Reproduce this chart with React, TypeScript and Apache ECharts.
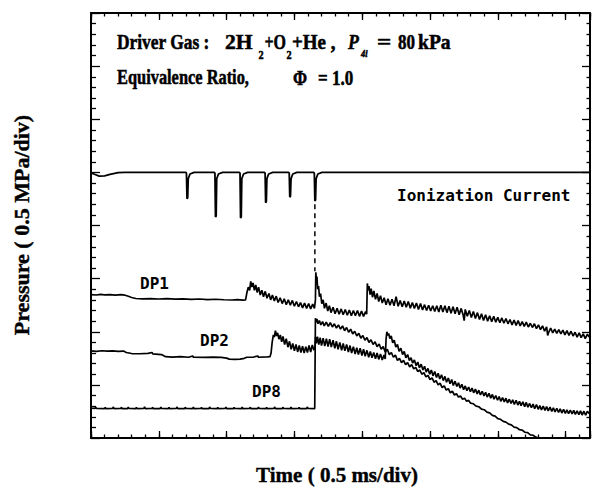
import { useEffect, useRef } from "react";
import * as echarts from "echarts";

// Time axis in ms (0.5 ms/div), pressure axis in MPa (0.5 MPa/div)
const timeRange: [number, number] = [0.3, 3.98];
const pressureRange: [number, number] = [0, 4];

// Ionization current trace (plotted in the pressure frame, offset to 2.5 div)
const ionizationCurrent: [number, number][] = [
  [0.3, 2.495], [0.33, 2.48], [0.36, 2.465], [0.4, 2.468], [0.44, 2.482], [0.5, 2.497], [0.55, 2.5],
  [1.0, 2.5], [1.004, 2.49], [1.008, 2.253], [1.013, 2.26], [1.017, 2.44], [1.03, 2.485], [1.06, 2.5],
  [1.21, 2.5], [1.214, 2.49], [1.218, 2.08], [1.223, 2.09], [1.227, 2.44], [1.24, 2.485], [1.27, 2.5],
  [1.395, 2.5], [1.399, 2.49], [1.403, 2.071], [1.408, 2.08], [1.412, 2.44], [1.425, 2.485], [1.455, 2.5],
  [1.58, 2.5], [1.584, 2.49], [1.588, 2.215], [1.593, 2.225], [1.597, 2.44], [1.61, 2.485], [1.64, 2.5],
  [1.758, 2.5], [1.762, 2.49], [1.766, 2.268], [1.771, 2.275], [1.775, 2.44], [1.788, 2.485], [1.818, 2.5],
  [1.943, 2.5], [1.947, 2.49], [1.951, 2.231], [1.956, 2.24], [1.96, 2.44], [1.973, 2.485], [2.003, 2.5],
  [3.98, 2.5],
];

// Dashed marker from the last ionization dip down to the DP1 shock front
const ionMarker: [number, number][] = [[1.951, 2.2], [1.951, 1.57]];

const dp1: [number, number][] = [
  [0.3, 1.35], [0.34, 1.346], [0.37, 1.352], [0.4, 1.347], [0.44, 1.35], [0.48, 1.345], [0.52, 1.349],
  [0.55, 1.344], [0.57, 1.336], [0.6, 1.322], [0.63, 1.313], [0.68, 1.31], [0.74, 1.312], [0.8, 1.308],
  [0.86, 1.311], [0.92, 1.307], [0.98, 1.31], [1.04, 1.305], [1.1, 1.308], [1.16, 1.303], [1.22, 1.306],
  [1.28, 1.301], [1.34, 1.299], [1.38, 1.303], [1.42, 1.297],
  [1.44, 1.3], [1.45, 1.37], [1.46, 1.42], [1.47, 1.39], [1.478, 1.475], [1.486, 1.42], [1.495, 1.46],
  [1.505, 1.39], [1.515, 1.44], [1.525, 1.37], [1.536, 1.42], [1.548, 1.345], [1.56, 1.39], [1.572, 1.33],
  [1.585, 1.38], [1.598, 1.315], [1.612, 1.36], [1.625, 1.3], [1.638, 1.345], [1.652, 1.29], [1.666, 1.335],
  [1.68, 1.275], [1.695, 1.32], [1.71, 1.265], [1.725, 1.31], [1.74, 1.255], [1.755, 1.3], [1.77, 1.25],
  [1.785, 1.295], [1.8, 1.24], [1.815, 1.285], [1.83, 1.235], [1.845, 1.275], [1.86, 1.225], [1.875, 1.27],
  [1.89, 1.22], [1.905, 1.265], [1.92, 1.215], [1.935, 1.26], [1.948, 1.22],
  [1.955, 1.3], [1.958, 1.56], [1.962, 1.49], [1.966, 1.52], [1.972, 1.4], [1.978, 1.43], [1.985, 1.33],
  [1.993, 1.36], [2.002, 1.265], [2.012, 1.3], [2.022, 1.22], [2.034, 1.27], [2.046, 1.195], [2.058, 1.245],
  [2.07, 1.18], [2.085, 1.23], [2.1, 1.17], [2.115, 1.22], [2.13, 1.165], [2.145, 1.215], [2.16, 1.16],
  [2.175, 1.21], [2.19, 1.155], [2.205, 1.205], [2.22, 1.15], [2.235, 1.2], [2.25, 1.15], [2.265, 1.2],
  [2.28, 1.145], [2.295, 1.195], [2.31, 1.145], [2.325, 1.19], [2.333, 1.165],
  [2.338, 1.455], [2.344, 1.39], [2.35, 1.43], [2.358, 1.35], [2.366, 1.405], [2.376, 1.325], [2.386, 1.385],
  [2.398, 1.305], [2.41, 1.36], [2.422, 1.285], [2.435, 1.34], [2.448, 1.27], [2.462, 1.32], [2.476, 1.255],
  [2.49, 1.31], [2.505, 1.25], [2.52, 1.305], [2.535, 1.245], [2.55, 1.33], [2.565, 1.24], [2.58, 1.295],
  [2.595, 1.235], [2.61, 1.29], [2.625, 1.23], [2.64, 1.285], [2.655, 1.222], [2.67, 1.275], [2.685, 1.22],
  [2.7, 1.27], [2.715, 1.21], [2.73, 1.265], [2.745, 1.205], [2.76, 1.255], [2.775, 1.2], [2.79, 1.25],
  [2.805, 1.195], [2.82, 1.245], [2.835, 1.19], [2.85, 1.245], [2.865, 1.185], [2.88, 1.25], [2.895, 1.185],
  [2.91, 1.245], [2.925, 1.18], [2.94, 1.24], [2.955, 1.175], [2.97, 1.235], [2.985, 1.17], [3.0, 1.23],
  [3.015, 1.16], [3.03, 1.22], [3.045, 1.155], [3.052, 1.105], [3.06, 1.21], [3.075, 1.145], [3.09, 1.2],
  [3.105, 1.135], [3.12, 1.19], [3.135, 1.125], [3.15, 1.18], [3.165, 1.115], [3.18, 1.17], [3.195, 1.105],
  [3.21, 1.16], [3.225, 1.1], [3.24, 1.15], [3.255, 1.095], [3.27, 1.145], [3.285, 1.09], [3.3, 1.135],
  [3.315, 1.085], [3.33, 1.13], [3.345, 1.08], [3.36, 1.125], [3.375, 1.075], [3.39, 1.115], [3.405, 1.065],
  [3.42, 1.11], [3.435, 1.06], [3.45, 1.105], [3.465, 1.055], [3.48, 1.095], [3.495, 1.05], [3.51, 1.09],
  [3.525, 1.045], [3.54, 1.08], [3.555, 1.04], [3.57, 1.075], [3.585, 1.03], [3.6, 1.065], [3.615, 1.02],
  [3.63, 1.055], [3.645, 1.005], [3.66, 1.045], [3.668, 0.965], [3.675, 0.995], [3.69, 1.035], [3.705, 0.99],
  [3.72, 1.025], [3.735, 0.985], [3.75, 1.02], [3.765, 0.98], [3.78, 1.015], [3.795, 0.97], [3.81, 1.01],
  [3.825, 0.965], [3.84, 1.005], [3.855, 0.96], [3.87, 0.995], [3.885, 0.95], [3.9, 0.99], [3.915, 0.945],
  [3.93, 0.98], [3.945, 0.935], [3.96, 0.975], [3.98, 0.945],
];

const dp2: [number, number][] = [
  [0.3, 0.82], [0.34, 0.816], [0.38, 0.821], [0.42, 0.817], [0.46, 0.82], [0.5, 0.815], [0.54, 0.818],
  [0.56, 0.805], [0.6, 0.795], [0.66, 0.793], [0.72, 0.796], [0.75, 0.805], [0.755, 0.792], [0.82, 0.785],
  [0.85, 0.765], [0.9, 0.762], [0.96, 0.765], [1.02, 0.76], [1.05, 0.772], [1.055, 0.76], [1.14, 0.759],
  [1.2, 0.762], [1.26, 0.758], [1.3, 0.752], [1.32, 0.742], [1.36, 0.74], [1.4, 0.743], [1.43, 0.75],
  [1.45, 0.76], [1.5, 0.762], [1.53, 0.772], [1.535, 0.76], [1.6, 0.763], [1.62, 0.765],
  [1.628, 0.8], [1.636, 0.9], [1.645, 0.97], [1.652, 0.95], [1.66, 1.01], [1.668, 0.96], [1.676, 0.99],
  [1.686, 0.93], [1.696, 0.97], [1.706, 0.905], [1.716, 0.955], [1.728, 0.88], [1.74, 0.935], [1.752, 0.855],
  [1.764, 0.91], [1.776, 0.835], [1.788, 0.89], [1.8, 0.82], [1.812, 0.88], [1.824, 0.81], [1.836, 0.87],
  [1.848, 0.805], [1.86, 0.865], [1.872, 0.8], [1.884, 0.86], [1.896, 0.805], [1.908, 0.87], [1.92, 0.81],
  [1.932, 0.875], [1.944, 0.825], [1.952, 0.86],
  [1.956, 0.95], [1.962, 0.89], [1.97, 0.955], [1.98, 0.88], [1.99, 0.945], [2.0, 0.87], [2.012, 0.94],
  [2.024, 0.865], [2.036, 0.935], [2.048, 0.86], [2.06, 0.93], [2.072, 0.855], [2.085, 0.92], [2.098, 0.845],
  [2.11, 0.91], [2.122, 0.835], [2.135, 0.9], [2.148, 0.825], [2.16, 0.89], [2.172, 0.82], [2.185, 0.88],
  [2.198, 0.81], [2.21, 0.87], [2.222, 0.8], [2.235, 0.86], [2.248, 0.79], [2.26, 0.85], [2.272, 0.785],
  [2.285, 0.845], [2.298, 0.775], [2.31, 0.835], [2.322, 0.77], [2.335, 0.825], [2.348, 0.76], [2.36, 0.815],
  [2.372, 0.755], [2.385, 0.805], [2.398, 0.745], [2.41, 0.8], [2.422, 0.74], [2.435, 0.79], [2.448, 0.735],
  [2.46, 0.78], [2.47, 0.745],
  [2.476, 0.93], [2.482, 1.0], [2.488, 0.965], [2.495, 0.985], [2.504, 0.935], [2.514, 0.96], [2.525, 0.895],
  [2.536, 0.92], [2.548, 0.855], [2.56, 0.88], [2.572, 0.815], [2.585, 0.845], [2.598, 0.785], [2.61, 0.815],
  [2.622, 0.755], [2.635, 0.785], [2.648, 0.73], [2.66, 0.755], [2.672, 0.705], [2.685, 0.735], [2.698, 0.68],
  [2.71, 0.715], [2.722, 0.66], [2.735, 0.695], [2.748, 0.64], [2.76, 0.675], [2.772, 0.62], [2.785, 0.655],
  [2.798, 0.6], [2.81, 0.64], [2.822, 0.585], [2.835, 0.625], [2.848, 0.57], [2.86, 0.61], [2.872, 0.555],
  [2.885, 0.595], [2.898, 0.54], [2.91, 0.58], [2.922, 0.525], [2.935, 0.565], [2.948, 0.51], [2.96, 0.55],
  [2.972, 0.495], [2.985, 0.535], [2.998, 0.485], [3.01, 0.52], [3.022, 0.47], [3.035, 0.505], [3.048, 0.455],
  [3.06, 0.49], [3.072, 0.445], [3.085, 0.48], [3.098, 0.435], [3.11, 0.47], [3.122, 0.425], [3.135, 0.46],
  [3.148, 0.415], [3.16, 0.45], [3.172, 0.405], [3.185, 0.44], [3.198, 0.395], [3.21, 0.43], [3.222, 0.385],
  [3.235, 0.42], [3.248, 0.375], [3.26, 0.41], [3.272, 0.365], [3.285, 0.4], [3.298, 0.355], [3.31, 0.39],
  [3.322, 0.345], [3.335, 0.38], [3.348, 0.34], [3.36, 0.375], [3.372, 0.33], [3.385, 0.365], [3.398, 0.325],
  [3.41, 0.36], [3.422, 0.315], [3.435, 0.355], [3.448, 0.31], [3.46, 0.345], [3.472, 0.305], [3.485, 0.34],
  [3.498, 0.295], [3.51, 0.335], [3.522, 0.29], [3.535, 0.325], [3.548, 0.285], [3.56, 0.32], [3.572, 0.275],
  [3.585, 0.315], [3.598, 0.27], [3.61, 0.305], [3.622, 0.265], [3.635, 0.3], [3.648, 0.26], [3.66, 0.295],
  [3.672, 0.255], [3.685, 0.29], [3.698, 0.25], [3.71, 0.285], [3.722, 0.245], [3.735, 0.28], [3.748, 0.24],
  [3.76, 0.275], [3.772, 0.235], [3.785, 0.27], [3.798, 0.232], [3.81, 0.265], [3.822, 0.23], [3.835, 0.262],
  [3.848, 0.226], [3.86, 0.26], [3.872, 0.222], [3.885, 0.256], [3.898, 0.22], [3.91, 0.255], [3.922, 0.216],
  [3.935, 0.252], [3.948, 0.214], [3.96, 0.25], [3.98, 0.225],
];

const dp8: [number, number][] = [
  [0.3, 0.28], [0.33, 0.278], [0.335, 0.29], [0.34, 0.278], [0.4, 0.277], [0.405, 0.288], [0.41, 0.277],
  [0.46, 0.278], [0.465, 0.292], [0.47, 0.277], [0.52, 0.278], [0.525, 0.289], [0.53, 0.277], [0.57, 0.277],
  [0.575, 0.29], [0.58, 0.278], [0.63, 0.277], [0.635, 0.288], [0.64, 0.277], [0.69, 0.278], [0.695, 0.293],
  [0.7, 0.277], [0.75, 0.278], [0.755, 0.289], [0.76, 0.277], [0.81, 0.277], [0.815, 0.291], [0.82, 0.278],
  [0.87, 0.277], [0.875, 0.288], [0.88, 0.277], [0.93, 0.278], [0.935, 0.292], [0.94, 0.277], [0.99, 0.277],
  [0.995, 0.289], [1.0, 0.278], [1.05, 0.277], [1.055, 0.291], [1.06, 0.277], [1.11, 0.278], [1.115, 0.288],
  [1.12, 0.277], [1.17, 0.277], [1.175, 0.292], [1.18, 0.278], [1.23, 0.277], [1.235, 0.289], [1.24, 0.277],
  [1.29, 0.278], [1.295, 0.291], [1.3, 0.277], [1.35, 0.277], [1.355, 0.288], [1.36, 0.278], [1.41, 0.277],
  [1.415, 0.292], [1.42, 0.277], [1.47, 0.278], [1.475, 0.289], [1.48, 0.277], [1.53, 0.277], [1.535, 0.291],
  [1.54, 0.278], [1.59, 0.277], [1.595, 0.288], [1.6, 0.277], [1.65, 0.278], [1.655, 0.292], [1.66, 0.277],
  [1.71, 0.277], [1.715, 0.289], [1.72, 0.278], [1.77, 0.277], [1.775, 0.291], [1.78, 0.277], [1.83, 0.278],
  [1.835, 0.288], [1.84, 0.277], [1.89, 0.277], [1.895, 0.292], [1.9, 0.278], [1.95, 0.277],
  [1.953, 0.28], [1.955, 1.127], [1.96, 1.09], [1.966, 1.12], [1.974, 1.075], [1.984, 1.105], [1.995, 1.065],
  [2.008, 1.095], [2.02, 1.055], [2.035, 1.09], [2.05, 1.05], [2.065, 1.085], [2.08, 1.045], [2.095, 1.075],
  [2.11, 1.035], [2.125, 1.065], [2.14, 1.025], [2.155, 1.055], [2.17, 1.01], [2.185, 1.04], [2.2, 0.995],
  [2.215, 1.025], [2.23, 0.98], [2.245, 1.005], [2.26, 0.96], [2.275, 0.985], [2.29, 0.94], [2.305, 0.965],
  [2.32, 0.92], [2.335, 0.945], [2.35, 0.9], [2.365, 0.925], [2.38, 0.88], [2.395, 0.905], [2.41, 0.86],
  [2.425, 0.885], [2.44, 0.835], [2.455, 0.86], [2.47, 0.81], [2.485, 0.835], [2.5, 0.785], [2.515, 0.805],
  [2.53, 0.76], [2.545, 0.78], [2.56, 0.73], [2.575, 0.75], [2.59, 0.71], [2.605, 0.73], [2.62, 0.69],
  [2.635, 0.71], [2.65, 0.67], [2.665, 0.69], [2.68, 0.65], [2.695, 0.665], [2.71, 0.625], [2.725, 0.64],
  [2.74, 0.6], [2.755, 0.615], [2.77, 0.575], [2.785, 0.59], [2.8, 0.55], [2.815, 0.565], [2.83, 0.525],
  [2.845, 0.54], [2.86, 0.5], [2.875, 0.515], [2.89, 0.475], [2.905, 0.49], [2.92, 0.45], [2.935, 0.465],
  [2.95, 0.425], [2.965, 0.44], [2.98, 0.405], [2.995, 0.417], [3.01, 0.385], [3.025, 0.396], [3.04, 0.365],
  [3.055, 0.375], [3.07, 0.345], [3.085, 0.354], [3.1, 0.328], [3.12, 0.322], [3.14, 0.3], [3.16, 0.294],
  [3.18, 0.272], [3.2, 0.266], [3.22, 0.243], [3.24, 0.236], [3.26, 0.213], [3.28, 0.206], [3.3, 0.183],
  [3.32, 0.176], [3.34, 0.156], [3.36, 0.149], [3.38, 0.13], [3.4, 0.124], [3.42, 0.103], [3.44, 0.098],
  [3.46, 0.078], [3.48, 0.074], [3.5, 0.054], [3.52, 0.05], [3.54, 0.03], [3.56, 0.026], [3.58, 0.008],
  [3.6, 0.0],
];

// Trace names placed next to each gauge record
const traceLabels = [
  { name: "DP1", x: 140, y: 283 },
  { name: "DP2", x: 200, y: 340 },
  { name: "DP8", x: 252, y: 391 },
  { name: "Ionization Current", x: 397, y: 195 },
];

const SERIF = '"Liberation Serif", "Times New Roman", serif';
const MONO = '"DejaVu Sans Mono", monospace';

const GRID = { left: 91, top: 13, width: 499, height: 425 };

function serifText(text: string, x: number, y: number, size = 20, italic = false, scaleX = 0.85) {
  return {
    type: "text",
    x,
    y,
    scaleX,
    silent: true,
    style: {
      text,
      fill: "#000",
      stroke: "#000",
      lineWidth: 0.5,
      fontFamily: SERIF,
      fontWeight: "bold",
      fontStyle: italic ? "italic" : "normal",
      fontSize: size,
      align: "left",
      verticalAlign: "middle",
    },
  };
}

export default function App() {
  const ref = useRef<HTMLDivElement>(null);

  useEffect(() => {
    if (!ref.current) return;
    const chart = echarts.init(ref.current, undefined, { renderer: "svg" });

    const frame = { show: true, lineStyle: { color: "#000", width: 2 } };
    const noLabel = { show: false };
    const noSplit = { show: false };
    const tick = (length: number) => ({
      show: true,
      inside: true,
      length,
      lineStyle: { color: "#000", width: 1.3 },
    });

    const xBase = {
      type: "value" as const,
      gridIndex: 0,
      min: timeRange[0],
      max: timeRange[1],
      axisLabel: noLabel,
      splitLine: noSplit,
    };
    const yBase = {
      type: "value" as const,
      gridIndex: 0,
      min: pressureRange[0],
      max: pressureRange[1],
      interval: 0.5,
      axisLabel: noLabel,
      splitLine: noSplit,
    };

    const trace = (data: [number, number][], width = 1.7) => ({
      type: "line" as const,
      data,
      showSymbol: false,
      symbol: "none",
      silent: true,
      clip: true,
      xAxisIndex: 0,
      yAxisIndex: 0,
      lineStyle: { color: "#000", width },
    });

    chart.setOption({
      animation: false,
      backgroundColor: "#fff",
      grid: [{ ...GRID, containLabel: false }],
      xAxis: [
        { ...xBase, position: "bottom", interval: 0.1, axisLine: frame, axisTick: tick(3.5) },
        { ...xBase, position: "bottom", interval: 0.5, axisLine: { show: false }, axisTick: tick(7) },
        { ...xBase, position: "top", interval: 0.1, axisLine: frame, axisTick: tick(3.5) },
        { ...xBase, position: "top", interval: 0.5, axisLine: { show: false }, axisTick: tick(7) },
      ],
      yAxis: [
        {
          ...yBase,
          position: "left",
          axisLine: frame,
          axisTick: tick(9),
          minorTick: { show: true, splitNumber: 5, length: 5, lineStyle: { color: "#000", width: 1.3 } },
        },
        {
          ...yBase,
          position: "right",
          axisLine: frame,
          axisTick: tick(8),
          minorTick: { show: true, splitNumber: 5, length: 3.5, lineStyle: { color: "#000", width: 1.3 } },
        },
      ],
      series: [
        trace(ionizationCurrent, 1.8),
        {
          ...trace(ionMarker, 1.5),
          lineStyle: { color: "#000", width: 1.5, type: [5, 4] },
        },
        trace(dp1),
        trace(dp2),
        trace(dp8),
      ],
      graphic: [
        // Test condition header
        serifText("Driver Gas :", 117, 42, 20, false, 0.87),
        serifText("2H", 225, 42, 20, false, 1.08),
        serifText("2", 258.5, 54.5, 12),
        serifText("+O", 264.5, 42, 20, false, 0.8),
        serifText("2", 286.5, 54.5, 12),
        serifText("+He ,", 292, 42, 20, false, 0.95),
        serifText("P", 348, 42, 21, true),
        serifText("4i", 361, 54, 10, true),
        serifText("=", 377, 42, 20, false, 1.25),
        serifText("80", 398, 42),
        serifText("kPa", 418, 42, 20, false, 0.98),
        serifText("Equivalence Ratio,", 117, 77.5, 20, false, 0.82),
        serifText("Φ", 293, 77.5),
        serifText("= 1.0", 318, 77.5),
        // Trace names
        ...traceLabels.map((l) => ({
          type: "text",
          x: l.x,
          y: l.y,
          silent: true,
          style: {
            text: l.name,
            fill: "#000",
            fontFamily: MONO,
            fontWeight: "bold",
            fontSize: 16,
            align: "left",
            verticalAlign: "middle",
          },
        })),
        // Axis titles
        {
          type: "text",
          x: 21,
          y: 225,
          rotation: Math.PI / 2,
          silent: true,
          style: {
            text: "Pressure ( 0.5 MPa/div)",
            fill: "#000",
            stroke: "#000",
            lineWidth: 0.4,
            fontFamily: SERIF,
            fontWeight: "bold",
            fontSize: 22,
            align: "center",
            verticalAlign: "middle",
          },
        },
        {
          type: "text",
          x: 337,
          y: 475,
          silent: true,
          style: {
            text: "Time ( 0.5 ms/div)",
            fill: "#000",
            stroke: "#000",
            lineWidth: 0.4,
            fontFamily: SERIF,
            fontWeight: "bold",
            fontSize: 21,
            align: "center",
            verticalAlign: "middle",
          },
        },
      ],
    });

    return () => chart.dispose();
  }, []);

  return (
    <div
      ref={ref}
      style={{ position: "fixed", left: 0, top: 0, width: 592, height: 488, background: "#fff" }}
    />
  );
}
